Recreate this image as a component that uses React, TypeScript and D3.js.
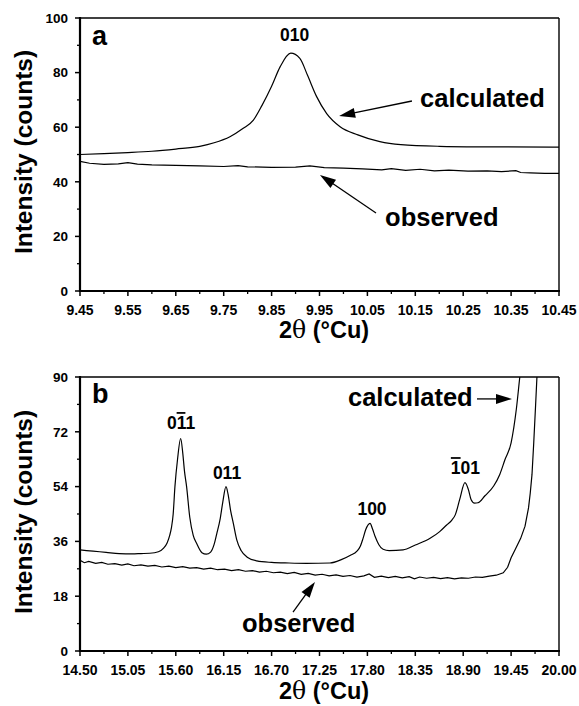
import React from "react";
import * as d3 from "d3";

// ---------- Panel a data ----------
const aCalcX = [9.45, 9.5, 9.55, 9.6, 9.65, 9.7, 9.73, 9.763, 9.79, 9.812, 9.83, 9.85, 9.868, 9.89, 9.909, 9.925, 9.944, 9.965, 9.993, 10.03, 10.076, 10.12, 10.2, 10.3, 10.45];
const aCalcY = [50.0, 50.3, 50.7, 51.2, 52.0, 53.0, 54.3, 56.5, 59.5, 62.6, 68, 75, 82.2, 87.1, 85.2, 79, 71.2, 65, 60.2, 57.2, 54.7, 53.6, 53.0, 52.8, 52.7];
const aObsX = [9.45, 9.47, 9.5, 9.53, 9.55, 9.57, 9.6, 9.65, 9.7, 9.75, 9.78, 9.8, 9.85, 9.9, 9.93, 9.96, 10.0, 10.04, 10.08, 10.1, 10.13, 10.16, 10.19, 10.22, 10.26, 10.3, 10.33, 10.36, 10.37, 10.39, 10.42, 10.45];
const aObsY = [47.5, 46.8, 46.4, 46.6, 47.0, 46.5, 46.2, 46.0, 45.8, 45.6, 45.9, 45.5, 45.3, 45.4, 45.8, 45.2, 45.0, 44.7, 44.4, 44.8, 44.2, 44.6, 44.0, 44.3, 43.9, 44.0, 43.7, 44.1, 43.4, 43.3, 43.1, 43.1];
const aXTicks = [9.45, 9.55, 9.65, 9.75, 9.85, 9.95, 10.05, 10.15, 10.25, 10.35, 10.45];
const aYTicks = [0, 20, 40, 60, 80, 100];

// ---------- Panel b data ----------
const bCalcX = [14.5, 14.65, 14.8, 14.95, 15.1, 15.2, 15.3, 15.4, 15.46, 15.5, 15.53, 15.55, 15.57, 15.59, 15.62, 15.656, 15.68, 15.7, 15.724, 15.76, 15.8, 15.84, 15.9, 15.95, 16.0, 16.04, 16.07, 16.11, 16.14, 16.176, 16.2, 16.23, 16.26, 16.3, 16.35, 16.42, 16.53, 16.7, 16.9, 17.1, 17.37, 17.5, 17.6, 17.68, 17.72, 17.75, 17.78, 17.83, 17.86, 17.89, 17.93, 17.98, 18.05, 18.21, 18.35, 18.52, 18.63, 18.71, 18.77, 18.81, 18.86, 18.92, 18.96, 18.99, 19.03, 19.07, 19.15, 19.25, 19.32, 19.38, 19.45, 19.51, 19.55, 19.57];
const bCalcY = [33.2, 32.8, 32.4, 32.0, 31.9, 32.0, 32.1, 32.6, 33.8, 35.5, 38, 40.5, 45, 54, 63, 69.8, 65, 59, 54, 44, 38, 35.3, 32.3, 31.8, 32.5, 35, 38.5, 43.5, 49, 54, 51.5, 46, 42, 36.5, 33, 30.8, 29.6, 29.1, 28.9, 28.8, 28.9, 30, 31.4, 32.8, 34.5, 37, 39.8, 41.9, 40, 37.5, 35, 33.4, 33.0, 33.2, 34.8, 37, 39.2, 41.4, 43, 44.8, 49.8, 55.3, 53, 49.8, 48.6, 48.7, 51, 54.2, 58, 62.9, 68.4, 79.4, 90, 95];
const bObsX = [14.5, 14.55, 14.6, 14.68, 14.75, 14.82, 14.9, 14.98, 15.05, 15.12, 15.2, 15.28, 15.36, 15.44, 15.52, 15.6, 15.68, 15.76, 15.84, 15.92, 16.0, 16.08, 16.16, 16.24, 16.32, 16.4, 16.48, 16.56, 16.64, 16.72, 16.8, 16.88, 16.96, 17.04, 17.12, 17.2, 17.28, 17.36, 17.44, 17.52, 17.6, 17.68, 17.76, 17.82, 17.88, 17.96, 18.04, 18.12, 18.2, 18.28, 18.34, 18.4, 18.48, 18.56, 18.64, 18.72, 18.8, 18.88, 18.96, 19.04, 19.12, 19.2, 19.28, 19.36, 19.41, 19.45, 19.5, 19.56, 19.61, 19.65, 19.67, 19.69, 19.71, 19.73, 19.75];
const bObsY = [29.8, 29.0, 29.4, 28.8, 29.1, 28.5, 28.7, 28.2, 28.6, 28.0, 28.3, 27.9, 28.1, 27.6, 27.9, 27.4, 27.7, 27.2, 27.4, 26.9, 27.2, 26.7, 26.9, 26.4, 26.7, 26.2, 26.4, 25.9, 26.2, 25.7, 25.9, 25.4, 25.8, 25.2, 25.5, 24.9, 25.2, 24.7, 25.0, 24.5, 24.8, 24.3, 24.7, 25.3, 24.2, 24.6, 24.1, 24.5, 24.0, 24.4, 23.7, 24.3, 23.9, 24.2, 23.8, 24.1, 23.7, 24.0, 23.9, 24.3, 24.2, 24.6, 24.9, 25.7, 27.5, 30.6, 33.5, 37, 41, 47, 51.9, 58, 68.4, 80, 92];
const bXTicks = [14.5, 15.05, 15.6, 16.15, 16.7, 17.25, 17.8, 18.35, 18.9, 19.45, 20.0];
const bYTicks = [0, 18, 36, 54, 72, 90];

const FONT = "'Liberation Sans', Arial, Helvetica, sans-serif";
const W = 579;
const H = 706;

type Pt = [number, number];

function zip(xs: number[], ys: number[]): Pt[] {
  return xs.map((x, i) => [x, ys[i]] as Pt);
}

function Arrow({ from, to, head = 16, half = 5 }: { from: Pt; to: Pt; head?: number; half?: number }) {
  const dx = to[0] - from[0];
  const dy = to[1] - from[1];
  const len = Math.hypot(dx, dy);
  const ux = dx / len;
  const uy = dy / len;
  const bx = to[0] - ux * head;
  const by = to[1] - uy * head;
  const p1 = [bx - uy * half, by + ux * half];
  const p2 = [bx + uy * half, by - ux * half];
  return (
    <g>
      <line x1={from[0]} y1={from[1]} x2={bx + ux * 2} y2={by + uy * 2} stroke="#000" strokeWidth={1.3} />
      <polygon points={`${to[0]},${to[1]} ${p1[0]},${p1[1]} ${p2[0]},${p2[1]}`} fill="#000" />
    </g>
  );
}

type PanelProps = {
  x0: number; x1: number; y0: number; y1: number;
  xDomain: [number, number]; yDomain: [number, number];
  xTicks: number[]; yTicks: number[]; xFmt: (v: number) => string;
  calc: Pt[]; obs: Pt[];
  children: (sx: d3.ScaleLinear<number, number>, sy: d3.ScaleLinear<number, number>) => React.ReactNode;
  clipId: string;
};

function Panel({ x0, x1, y0, y1, xDomain, yDomain, xTicks, yTicks, xFmt, calc, obs, children, clipId }: PanelProps) {
  const sx = d3.scaleLinear().domain(xDomain).range([x0, x1]);
  const sy = d3.scaleLinear().domain(yDomain).range([y1, y0]);
  const smooth = d3.line<Pt>().x((d) => sx(d[0])).y((d) => sy(d[1])).curve(d3.curveMonotoneX);
  const line = d3.line<Pt>().x((d) => sx(d[0])).y((d) => sy(d[1]));
  const xMinor: number[] = [];
  for (let i = 0; i < xTicks.length - 1; i++) xMinor.push((xTicks[i] + xTicks[i + 1]) / 2);
  const yMinor: number[] = [];
  for (let i = 0; i < yTicks.length - 1; i++) yMinor.push((yTicks[i] + yTicks[i + 1]) / 2);
  return (
    <g>
      <defs>
        <clipPath id={clipId}>
          <rect x={x0} y={y0} width={x1 - x0} height={y1 - y0} />
        </clipPath>
      </defs>
      <g clipPath={`url(#${clipId})`} fill="none" stroke="#000" strokeWidth={1.2}>
        <path d={smooth(calc) || ""} />
        <path d={line(obs) || ""} />
      </g>
      {/* frame */}
      <line x1={x0} y1={y0} x2={x1} y2={y0} stroke="#000" strokeWidth={1.4} />
      <line x1={x1} y1={y0} x2={x1} y2={y1} stroke="#000" strokeWidth={1.4} />
      <line x1={x0} y1={y0 - 1} x2={x0} y2={y1 + 1} stroke="#000" strokeWidth={2.2} />
      <line x1={x0 - 1} y1={y1} x2={x1 + 1} y2={y1} stroke="#000" strokeWidth={2.2} />
      {/* y ticks */}
      {yTicks.map((t) => (
        <g key={"y" + t}>
          <line x1={x0 - 5} x2={x0} y1={sy(t)} y2={sy(t)} stroke="#000" strokeWidth={1.5} />
          <text x={x0 - 12} y={sy(t)} dy="0.36em" textAnchor="end" fontFamily={FONT} fontWeight="bold" fontSize={13.5}>{t}</text>
        </g>
      ))}
      {yMinor.map((t) => (
        <line key={"ym" + t} x1={x0 - 3} x2={x0} y1={sy(t)} y2={sy(t)} stroke="#000" strokeWidth={1.3} />
      ))}
      {/* x ticks */}
      {xTicks.map((t) => (
        <g key={"x" + t}>
          <line x1={sx(t)} x2={sx(t)} y1={y1} y2={y1 + 5} stroke="#000" strokeWidth={1.5} />
          <text x={sx(t)} y={y1 + 24} textAnchor="middle" fontFamily={FONT} fontWeight="bold" fontSize={14}>{xFmt(t)}</text>
        </g>
      ))}
      {xMinor.map((t) => (
        <line key={"xm" + t} x1={sx(t)} x2={sx(t)} y1={y1} y2={y1 + 3} stroke="#000" strokeWidth={1.3} />
      ))}
      {children(sx, sy)}
    </g>
  );
}

function PeakLabel({ x, y, parts }: { x: number; y: number; parts: { t: string; bar?: boolean }[] }) {
  return (
    <text x={x} y={y} textAnchor="middle" fontFamily={FONT} fontWeight="bold" fontSize={17.5}>
      {parts.map((p, i) => (
        <tspan key={i} style={p.bar ? { textDecoration: "overline" } : undefined}>{p.t}</tspan>
      ))}
    </text>
  );
}

export default function App() {
  const big = 25.5;
  return (
    <svg width={W} height={H} style={{ position: "absolute", left: 0, top: 0, background: "#fff" }}>
      <rect width={W} height={H} fill="#fff" />
      {/* Panel a */}
      <Panel
        x0={80} x1={559} y0={18} y1={291}
        xDomain={[9.45, 10.45]} yDomain={[0, 100]}
        xTicks={aXTicks} yTicks={aYTicks} xFmt={(v) => v.toFixed(2)}
        calc={zip(aCalcX, aCalcY)} obs={zip(aObsX, aObsY)} clipId="clipA"
      >
        {(sx, sy) => (
          <g>
            <text x={sx(9.475)} y={sy(90.1)} fontFamily={FONT} fontWeight="bold" fontSize={27}>a</text>
            <PeakLabel x={sx(9.898)} y={sy(91.7)} parts={[{ t: "010" }]} />
            <Arrow from={[sx(10.143), sy(69.6)]} to={[sx(9.991), sy(64.1)]} />
            <text x={sx(10.16)} y={sy(67.4)} fontFamily={FONT} fontWeight="bold" fontSize={big}>calculated</text>
            <Arrow from={[sx(10.068), sy(28.6)]} to={[sx(9.951), sy(42.5)]} />
            <text x={sx(10.087)} y={sy(23.8)} fontFamily={FONT} fontWeight="bold" fontSize={big}>observed</text>
          </g>
        )}
      </Panel>
      {/* Panel b */}
      <Panel
        x0={80} x1={559} y0={377} y1={651}
        xDomain={[14.5, 20.0]} yDomain={[0, 90]}
        xTicks={bXTicks} yTicks={bYTicks} xFmt={(v) => v.toFixed(2)}
        calc={zip(bCalcX, bCalcY)} obs={zip(bObsX, bObsY)} clipId="clipB"
      >
        {(sx, sy) => (
          <g>
            <text x={sx(14.638)} y={sy(81.5)} fontFamily={FONT} fontWeight="bold" fontSize={27}>b</text>
            <PeakLabel x={sx(15.66)} y={sy(72.9)} parts={[{ t: "0" }, { t: "1", bar: true }, { t: "1" }]} />
            <PeakLabel x={sx(16.188)} y={sy(56.5)} parts={[{ t: "011" }]} />
            <PeakLabel x={sx(17.853)} y={sy(44.7)} parts={[{ t: "100" }]} />
            <PeakLabel x={sx(18.926)} y={sy(58.1)} parts={[{ t: "1", bar: true }, { t: "01" }]} />
            <text x={sx(17.577)} y={sy(80.5)} fontFamily={FONT} fontWeight="bold" fontSize={big}>calculated</text>
            <Arrow from={[sx(19.058), sy(82.8)]} to={[sx(19.46), sy(82.8)]} />
            <text x={sx(16.36)} y={sy(6.24)} fontFamily={FONT} fontWeight="bold" fontSize={big}>observed</text>
            <Arrow from={[sx(16.946), sy(12.8)]} to={[sx(17.198), sy(22.7)]} />
          </g>
        )}
      </Panel>
      {/* axis titles */}
      <text x={324} y={338} textAnchor="middle" fontFamily={FONT} fontWeight="bold" fontSize={23.5}>
        2<tspan fontFamily="'DejaVu Serif', 'Liberation Serif', serif" fontWeight="normal">θ</tspan> (°Cu)
      </text>
      <text x={324} y={699} textAnchor="middle" fontFamily={FONT} fontWeight="bold" fontSize={23.5}>
        2<tspan fontFamily="'DejaVu Serif', 'Liberation Serif', serif" fontWeight="normal">θ</tspan> (°Cu)
      </text>
      <text transform="translate(32,152) rotate(-90)" textAnchor="middle" fontFamily={FONT} fontWeight="bold" fontSize={24.5}>Intensity (counts)</text>
      <text transform="translate(32,512) rotate(-90)" textAnchor="middle" fontFamily={FONT} fontWeight="bold" fontSize={24.5}>Intensity (counts)</text>
    </svg>
  );
}
